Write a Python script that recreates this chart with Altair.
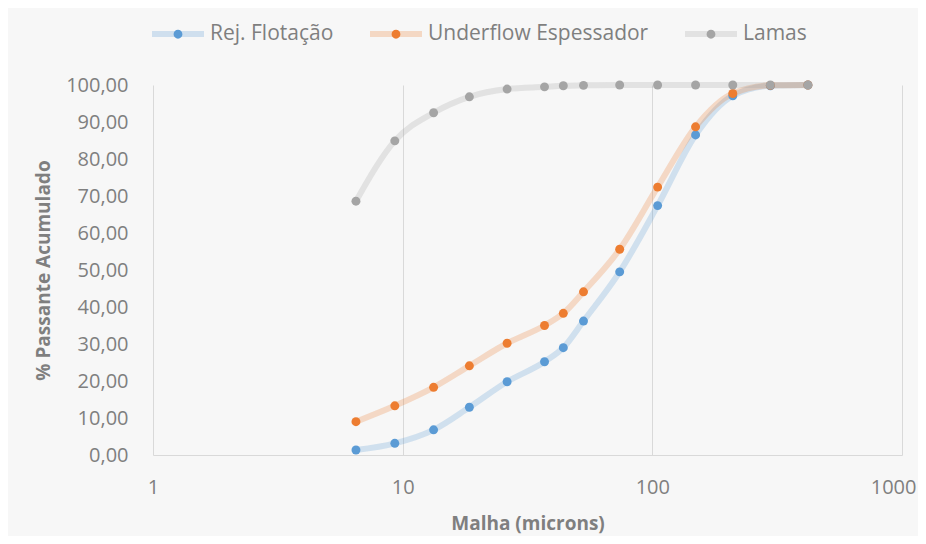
import altair as alt
import pandas as pd

series = ["Rej. Flotação", "Underflow Espessador", "Lamas"]
colors = ["#5b9bd5", "#ed7d31", "#a5a5a5"]

malha = [6.5, 9.3, 13.3, 18.5, 26.2, 37, 44, 53, 74, 105, 149, 210, 297, 420]
rej_flotacao = [1.35, 3.15, 6.8, 12.9, 19.8, 25.2, 29.0, 36.2, 49.5, 67.4, 86.5, 97.1, 99.8, 100.0]
underflow = [9.0, 13.3, 18.3, 24.1, 30.2, 35.0, 38.3, 44.1, 55.6, 72.4, 88.7, 97.7, 99.9, 100.0]
lamas = [68.6, 84.9, 92.5, 96.8, 98.9, 99.5, 99.8, 99.9, 100.0, 100.0, 100.0, 100.0, 100.0, 100.0]

x_ticks = [1, 10, 100, 1000]
y_ticks = [0, 10, 20, 30, 40, 50, 60, 70, 80, 90, 100]

rows = []
for name, vals in zip(series, [rej_flotacao, underflow, lamas]):
    for i, (m, v) in enumerate(zip(malha, vals)):
        rows.append({"serie": name, "malha": m, "pct": v, "ordem": i})
df = pd.DataFrame(rows)

FONT = "Open Sans"
GRAY = "#7f7f7f"

x_enc = alt.X(
    "malha:Q",
    scale=alt.Scale(type="log", domain=[1, 1000], nice=False),
    axis=alt.Axis(
        values=x_ticks, format="d", title="Malha (microns)",
        grid=True, gridColor="#d9d9d9", gridWidth=1,
        domainColor="#d9d9d9", ticks=False, labelPadding=22,
        labelFlush=False,
        labelAlign={"condition": {"test": "datum.value == 1000", "value": "right"}, "value": "center"},
        labelOffset={"condition": {"test": "datum.value == 1000", "value": 14}, "value": 0},
        labelFont=FONT, labelFontSize=20, labelColor=GRAY,
        titleFont=FONT, titleFontSize=19, titleFontWeight="bold",
        titleColor=GRAY, titlePadding=17,
    ),
)
y_enc = alt.Y(
    "pct:Q",
    scale=alt.Scale(domain=[0, 100], nice=False),
    axis=alt.Axis(
        values=y_ticks, title="% Passante Acumulado",
        labelExpr="replace(format(datum.value, '.2f'), '.', ',')",
        grid=False, domain=False, ticks=False, labelPadding=25,
        labelFont=FONT, labelFontSize=20, labelColor=GRAY,
        titleFont=FONT, titleFontSize=19, titleFontWeight="bold",
        titleColor=GRAY, titlePadding=12,
    ),
)

SYM = 2704  # 52px wide legend symbol
common_legend = dict(
    orient="none", direction="horizontal", legendX=-4, legendY=-80,
    title=None, padding=0, columnPadding=24, labelOffset=3,
    labelFont=FONT, labelFontSize=21, labelLimit=400,
    symbolSize=SYM, symbolStrokeWidth=6,
)

lines = alt.Chart(df).mark_line(
    interpolate="monotone", strokeWidth=6, opacity=0.25
).encode(
    x=x_enc, y=y_enc,
    color=alt.Color(
        "serie:N",
        scale=alt.Scale(domain=series, range=colors),
        legend=alt.Legend(
            symbolType="stroke", symbolOpacity=0.25,
            labelColor=GRAY, **common_legend,
        ),
    ),
    order="ordem:Q",
)

# dot symbol with an invisible stroked segment so its bounds match the line symbol
DOT = "M-1,0L1,0M0.17,0A0.17,0.17,0,1,1,-0.17,0A0.17,0.17,0,1,1,0.17,0Z"
points = alt.Chart(df).mark_point(filled=True, size=80, opacity=1).encode(
    x=x_enc, y=y_enc,
    color=alt.Color(
        "serie:N",
        scale=alt.Scale(domain=series, range=colors),
        legend=alt.Legend(
            symbolType=DOT,
            symbolStrokeColor="transparent", symbolOpacity=1, labelOpacity=0,
            **common_legend,
        ),
    ),
)

chart = alt.layer(lines, points).resolve_scale(color="independent").properties(
    width=749, height=370,
    autosize=alt.AutoSizeParams(type="none"),
    padding={"left": 145, "top": 77, "right": 16, "bottom": 81},
    background="#f7f7f7",
).configure_view(stroke=None)

chart.save("out.html", embed_options={"renderer": "svg", "actions": False})
